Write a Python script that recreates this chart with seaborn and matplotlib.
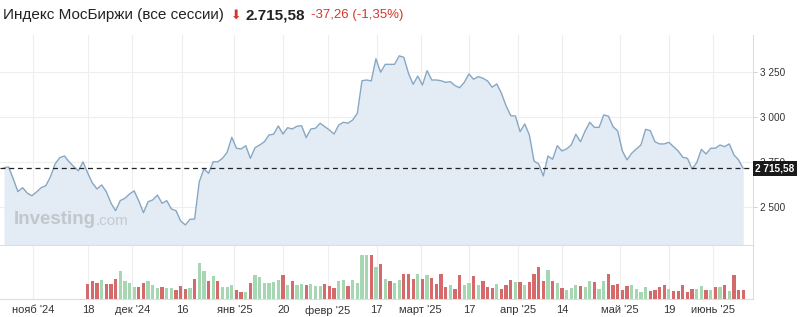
import numpy as np
import pandas as pd
import matplotlib
matplotlib.use("Agg")
import matplotlib.pyplot as plt
import seaborn as sns

# ---------------- data ----------------
price = [2720, 2724, 2657, 2587, 2609, 2579, 2564, 2585, 2609, 2620,
         2670, 2741, 2776, 2785, 2753, 2726, 2703, 2752, 2691, 2635,
         2602, 2624, 2587, 2524, 2481, 2537, 2550, 2574, 2591, 2535,
         2470, 2531, 2541, 2568, 2522, 2537, 2491, 2481, 2424, 2402,
         2433, 2435, 2642, 2713, 2689, 2753, 2753, 2772, 2806, 2889,
         2828, 2824, 2842, 2772, 2831, 2846, 2864, 2902, 2906, 2952,
         2907, 2942, 2935, 2950, 2953, 2887, 2935, 2939, 2967, 2948,
         2929, 2907, 2957, 2972, 2967, 2985, 3022, 3203, 3207, 3202,
         3325, 3250, 3294, 3294, 3294, 3341, 3333, 3244, 3183, 3229,
         3179, 3259, 3207, 3207, 3203, 3194, 3198, 3176, 3164, 3194,
         3241, 3211, 3226, 3217, 3202, 3167, 3185, 3133, 3063, 3009,
         3007, 2920, 2963, 2902, 2757, 2741, 2674, 2785, 2767, 2842,
         2813, 2824, 2846, 2906, 2864, 2924, 2972, 2944, 2944, 3013,
         3006, 2948, 2924, 2813, 2763, 2800, 2824, 2846, 2933, 2926,
         2864, 2852, 2852, 2861, 2837, 2813, 2778, 2772, 2713, 2748,
         2822, 2796, 2828, 2828, 2846, 2837, 2852, 2791, 2763, 2715.58]

vol_start = 18  # first session with volume data
volume = [45, 53, 47, 55, 43, 45, 58, 82, 52, 47,
          35, 35, 47, 53, 40, 32, 34, 32, 32, 25,
          37, 30, 32, 60, 107, 82, 52, 68, 52, 35,
          35, 41, 27, 21, 20, 47, 70, 65, 48, 48,
          49, 55, 70, 42, 53, 40, 43, 41, 43, 37,
          37, 44, 37, 32, 53, 55, 38, 57, 47, 131,
          132, 130, 95, 103, 60, 53, 47, 55, 73, 73,
          60,
          75, 60, 70, 63, 45, 75, 35, 42, 29, 70,
          42, 48, 67, 40, 53, 34, 32, 44, 28, 40,
          55, 49, 51, 41, 51, 73, 95, 53, 87, 53,
          47, 32, 27, 32, 42, 37, 35, 53, 49, 30,
          52, 73, 42, 44, 25, 39, 42, 28, 20, 35,
          23, 25, 34, 42, 29, 23, 23, 40, 20, 29,
          29, 39, 25, 27, 36, 35, 42, 23, 71, 27,
          27]
direction = list("RRRGRRRGGG" "GRRGGGRGGR" "RRGRGGRGRG" "GGRRGRGGGG"
                 "GGRGRGGRGG" "GRRRGGRGGG" "GRGRGRGGRR" "R"
                 "GRGRRRRGRR" "GGRGRRRGRR" "RGRGRRRRGR" "GRGGGRGGRG"
                 "GRRRRRGGGG" "RRRRGRRRRR" "GGRGRGRGRR" "R")

tick_pos = [6.24, 18.06, 27.59, 38.28, 49.57, 60.1, 69.6, 80.17, 89.6,
            100.04, 110.5, 120.06, 132.5, 143.1, 152.5]
tick_labels = ["нояб '24", "18", "дек '24", "16", "янв '25", "20", "февр '25",
               "17", "март '25", "17", "апр '25", "14", "май '25", "19", "июнь '25"]
y_ticks = [2500, 2750, 3000, 3250]
y_tick_labels = ["2 500", "2 750", "3 000", "3 250"]

title = "Индекс МосБиржи (все сессии)"
last_label = "2.715,58"
change_label = "-37,26 (-1,35%)"
box_label = "2 715,58"

# ---------------- frames ----------------
df = pd.DataFrame({"i": np.arange(len(price)), "price": price})
vdf = pd.DataFrame({"i": np.arange(vol_start, vol_start + len(volume)),
                    "volume": volume, "dir": direction})

sns.set_theme(style="white")
plt.rcParams["font.family"] = ["Liberation Sans", "DejaVu Sans"]

W, H = 804, 317
fig = plt.figure(figsize=(W / 100, H / 100), dpi=100)

def px_axes(x0, y0, x1, y1):
    return fig.add_axes([x0 / W, 1 - y1 / H, (x1 - x0) / W, (y1 - y0) / H])

ax = px_axes(0, 35, 753, 245)
axv = px_axes(0, 246, 753, 298.5)

xlim = (-0.86, 161.1)
grid_c = "#eeeeee"
line_c = "#86a7c4"
fill_c = "#e3ecf5"

# price panel
ax.fill_between(df["i"], df["price"], 2000, color=fill_c, lw=0, zorder=1)
sns.lineplot(data=df, x="i", y="price", ax=ax, color=line_c, lw=1.0, zorder=3)
ax.axhline(price[-1], color="#222222", lw=0.9, ls=(0, (4, 3)), zorder=4)
ax.set_xlim(*xlim)
ax.set_ylim(2290.6, 3457)
ax.set_xlabel("")
ax.set_ylabel("")
ax.set_xticks(tick_pos)
ax.set_xticklabels([])
ax.tick_params(axis="x", length=0)
ax.yaxis.tick_right()
ax.set_yticks(y_ticks)
ax.set_yticklabels(y_tick_labels)
ax.tick_params(axis="y", length=3, width=0.6, color="#cccccc", pad=2,
               labelsize=7.2, labelcolor="#333333", right=True)
ax.grid(True, color=grid_c, lw=0.8, zorder=0)
ax.set_axisbelow(True)
for s in ["top", "left"]:
    ax.spines[s].set_visible(False)
for s in ["bottom", "right"]:
    ax.spines[s].set_color("#dddddd")
    ax.spines[s].set_linewidth(0.8)

ax.text(1.003, price[-1], box_label, transform=ax.get_yaxis_transform(),
        ha="left", va="center", fontsize=7.2, color="white", fontweight="bold",
        bbox=dict(boxstyle="square,pad=0.25", fc="#1a1a1a", ec="none"),
        clip_on=False, zorder=10)

ax.text(14 / 753, 1 - (220 - 35) / 210, "Investing", transform=ax.transAxes,
        ha="left", va="center", fontsize=13.5, fontweight="bold", color="#c2c7cc",
        zorder=5)
ax.text(96 / 753, 1 - (221 - 35) / 210, ".com", transform=ax.transAxes,
        ha="left", va="center", fontsize=11, color="#c6cacf", zorder=5)

# volume panel
sns.barplot(data=vdf, x="i", y="volume", hue="dir", ax=axv, native_scale=True,
            palette={"R": "#d46a6b", "G": "#a6d6b2"}, dodge=False, width=0.7,
            linewidth=0, legend=False, zorder=3, saturation=1)
axv.set_xlim(*xlim)
axv.set_ylim(0, 157.5)
axv.set_xlabel("")
axv.set_ylabel("")
axv.set_yticks([])
axv.set_xticks(tick_pos)
axv.set_xticklabels(tick_labels)
axv.tick_params(axis="x", length=0, pad=5, labelsize=8, labelcolor="#333333")
axv.grid(True, axis="x", color=grid_c, lw=0.8, zorder=0)
axv.set_axisbelow(True)
for s in ["top", "left"]:
    axv.spines[s].set_visible(False)
for s in ["bottom", "right"]:
    axv.spines[s].set_color("#dddddd")
    axv.spines[s].set_linewidth(0.8)

# header
fig.text(3 / W, 1 - 15 / H, title, ha="left", va="center", fontsize=11, color="#222222")
fig.text(231 / W, 1 - 15 / H, "⬇", ha="left", va="center", fontsize=9,
         color="#d9342b", family=["DejaVu Sans"])
fig.text(246 / W, 1 - 15 / H, last_label, ha="left", va="center", fontsize=11,
         fontweight="bold", color="#222222")
fig.text(311 / W, 1 - 15 / H, change_label, ha="left", va="center", fontsize=9.5,
         color="#d9342b")

fig.savefig("out.png", dpi=100)
